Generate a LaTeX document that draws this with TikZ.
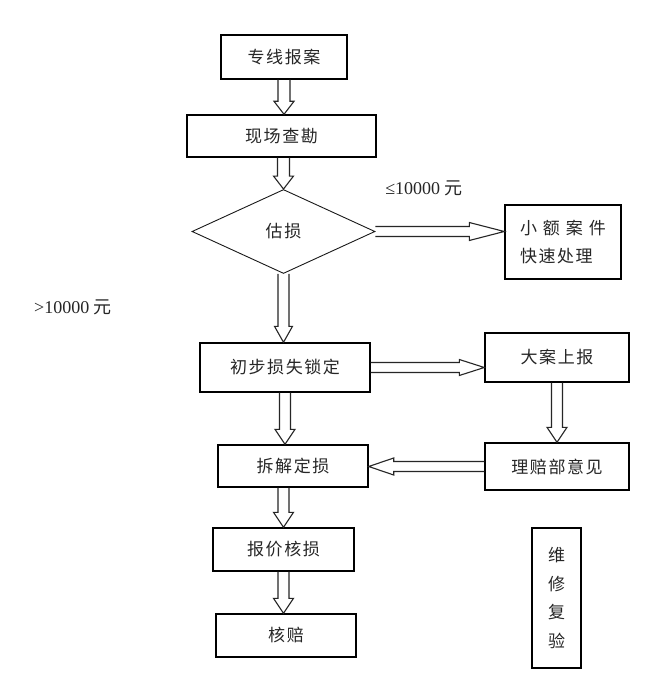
\documentclass[tikz,border=0pt]{standalone}
\usepackage{fontspec}
\setmainfont{Liberation Serif}
\newfontfamily\cjk[LetterSpace=9]{Noto Sans CJK SC}
\newfontfamily\cjkn{Noto Sans CJK SC}
\usetikzlibrary{calc,shapes.geometric}
\tikzset{
  box/.style={draw=black, line width=1.4pt, rectangle, inner sep=0pt,
    font=\cjk\fontsize{17}{20}\selectfont, text=black!85},
  harr/.style={draw=black!85, line width=1.1pt, line join=miter},
  lbl/.style={font=\fontsize{18}{20}\selectfont, inner sep=0pt, text=black!85}
}
\newcommand\hollow[5]{%
  \coordinate (ha) at #1; \coordinate (hb) at #2;
  \coordinate (hh) at ($(hb)!#5!(ha)$);
  \draw[harr] ($(ha)!#3!90:(hb)$) -- ($(hh)!#3!90:(hb)$) -- ($(hh)!#4!90:(hb)$) -- (hb)
    -- ($(hh)!#4!-90:(hb)$) -- ($(hh)!#3!-90:(hb)$) -- ($(ha)!#3!-90:(hb)$);
}
\begin{document}
\begin{tikzpicture}[x=1pt,y=-1pt]
\fill[white] (0,0) rectangle (652,682);
\useasboundingbox (0,0) rectangle (652,682);

\node[box, minimum width=126pt, minimum height=44pt] (n1) at (284,57) {专线报案};
\node[box, minimum width=189pt, minimum height=42pt] (n2) at (281.5,136) {现场查勘};
\node[draw=black!90, diamond, aspect=2.18, minimum width=183pt, minimum height=84pt,
  inner sep=0pt, line width=0.9pt, font=\cjk\fontsize{17}{20}\selectfont, text=black!85]
  (d) at (283.5,231.5) {估损};
\node[box, minimum width=116pt, minimum height=74pt, align=center,
  font=\cjkn\fontsize{17}{28}\selectfont] (s) at (563,242)
  {\makebox[86pt][s]{小\hfill 额\hfill 案\hfill 件}\\\makebox[86pt][l]{\cjk 快速处理}};
\node[box, minimum width=170pt, minimum height=49pt] (n3) at (285,367.5) {初步损失锁定};
\node[box, minimum width=144pt, minimum height=49pt] (big) at (557,357.5) {大案上报};
\node[box, minimum width=144pt, minimum height=47pt] (li) at (557,466.5) {理赔部意见};
\node[box, minimum width=150pt, minimum height=42pt] (n4) at (293,466) {拆解定损};
\node[box, minimum width=141pt, minimum height=43pt] (n5) at (283.5,549.5) {报价核损};
\node[box, minimum width=140pt, minimum height=43pt] (n6) at (286,635.5) {核赔};
\node[box, minimum width=49pt, minimum height=140pt, align=center,
  font=\cjkn\fontsize{17}{28.5}\selectfont] (w) at (556.5,598) {维\\修\\复\\验};

\node[lbl] (le) at (424,188) {≤10000 {\cjkn 元}};
\node[lbl] (gt) at (73,307) {>10000 {\cjkn 元}};

\hollow{(n1.south)}{(n1.south |- n2.north)}{6pt}{10pt}{13pt}
\hollow{(d.north |- n2.south)}{(d.north)}{6pt}{10pt}{13pt}
\hollow{(d.east)}{(d.east -| s.west)}{5pt}{9pt}{35pt}
\hollow{(d.south)}{(d.south |- n3.north)}{5.5pt}{9pt}{16pt}
\hollow{(n3.east)}{(n3.east -| big.west)}{5pt}{8pt}{25pt}
\hollow{(big.south)}{(big.south |- li.north)}{5.5pt}{10pt}{15pt}
\hollow{(li.west)}{(li.west -| n4.east)}{5pt}{8.5pt}{25pt}
\hollow{(n3.south)}{(n3.south |- n4.north)}{5.5pt}{10pt}{15pt}
\hollow{(n5.north |- n4.south)}{(n5.north)}{5.5pt}{10pt}{15pt}
\hollow{(n5.south)}{(n5.south |- n6.north)}{5.5pt}{10pt}{15pt}
\end{tikzpicture}
\end{document}
